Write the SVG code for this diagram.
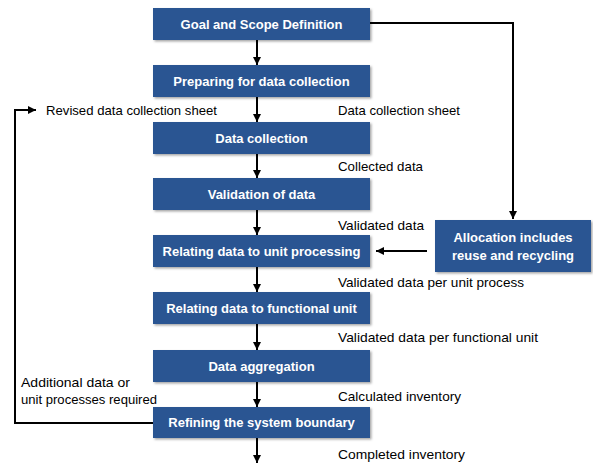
<svg xmlns="http://www.w3.org/2000/svg" width="593" height="464" viewBox="0 0 593 464">
<style>
.box{fill:#2B5592}
.bt{font-family:"Liberation Sans",Arial,sans-serif;font-size:13px;font-weight:bold;fill:#fff;text-anchor:middle}
.lb{font-family:"Liberation Sans",Arial,sans-serif;font-size:13.5px;fill:#000}
.ln{stroke:#000;stroke-width:2;fill:none}
</style>
<defs>
<marker id="ah" viewBox="0 0 10 10" refX="10" refY="5" markerWidth="4" markerHeight="4" orient="auto" markerUnits="strokeWidth">
<path d="M0,0 L10,5 L0,10 z" fill="#000"/>
</marker>
<filter id="sh" x="-5%" y="-20%" width="115%" height="150%">
<feDropShadow dx="1.5" dy="1.5" stdDeviation="1.2" flood-color="#000" flood-opacity="0.35"/>
</filter>
</defs>
<rect width="593" height="464" fill="#fff"/>
<g id="connectors">
<line class="ln" x1="257" y1="40" x2="257" y2="65" marker-end="url(#ah)"/>
<line class="ln" x1="257" y1="97" x2="257" y2="122" marker-end="url(#ah)"/>
<line class="ln" x1="257" y1="154" x2="257" y2="178" marker-end="url(#ah)"/>
<line class="ln" x1="257" y1="210" x2="257" y2="235" marker-end="url(#ah)"/>
<line class="ln" x1="257" y1="267" x2="257" y2="292" marker-end="url(#ah)"/>
<line class="ln" x1="257" y1="324" x2="257" y2="350" marker-end="url(#ah)"/>
<line class="ln" x1="257" y1="382" x2="257" y2="407" marker-end="url(#ah)"/>
<line class="ln" x1="257" y1="438" x2="257" y2="463" marker-end="url(#ah)"/>
<polyline class="ln" points="370,23 513,23 513,219" marker-end="url(#ah)"/>
<line class="ln" x1="427" y1="251" x2="376" y2="251" marker-end="url(#ah)"/>
<polyline class="ln" points="153,423 15,423 15,110 36,110" marker-end="url(#ah)"/>
<text class="lb" x="46" y="114.5" textLength="171" lengthAdjust="spacingAndGlyphs">Revised data collection sheet</text>
<text class="lb" x="338" y="114.5" textLength="122" lengthAdjust="spacingAndGlyphs">Data collection sheet</text>
<text class="lb" x="338" y="171" textLength="85" lengthAdjust="spacingAndGlyphs">Collected data</text>
<text class="lb" x="338" y="229.5" textLength="86" lengthAdjust="spacingAndGlyphs">Validated data</text>
<text class="lb" x="338" y="287" textLength="186" lengthAdjust="spacingAndGlyphs">Validated data per unit process</text>
<text class="lb" x="338" y="342" textLength="200" lengthAdjust="spacingAndGlyphs">Validated data per functional unit</text>
<text class="lb" x="338" y="400.5" textLength="123" lengthAdjust="spacingAndGlyphs">Calculated inventory</text>
<text class="lb" x="338" y="458.5" textLength="127" lengthAdjust="spacingAndGlyphs">Completed inventory</text>
<text class="lb" x="21" y="387" textLength="109" lengthAdjust="spacingAndGlyphs">Additional data or</text>
<text class="lb" x="21" y="403.5" textLength="136" lengthAdjust="spacingAndGlyphs">unit processes required</text>
</g>
<g id="goal"><rect class="box" filter="url(#sh)" x="153" y="8" width="217" height="32"/><text class="bt" x="261.5" y="28.5">Goal and Scope Definition</text></g>
<g id="preparing"><rect class="box" filter="url(#sh)" x="153" y="65" width="217" height="32"/><text class="bt" x="261.5" y="85.5">Preparing for data collection</text></g>
<g id="collection"><rect class="box" filter="url(#sh)" x="153" y="122" width="217" height="32"/><text class="bt" x="261.5" y="142.5">Data collection</text></g>
<g id="validation"><rect class="box" filter="url(#sh)" x="153" y="178" width="217" height="32"/><text class="bt" x="261.5" y="198.5">Validation of data</text></g>
<g id="unitproc"><rect class="box" filter="url(#sh)" x="153" y="235" width="217" height="32"/><text class="bt" x="261.5" y="255.5">Relating data to unit processing</text></g>
<g id="funcunit"><rect class="box" filter="url(#sh)" x="153" y="292" width="217" height="32"/><text class="bt" x="261.5" y="312.5">Relating data to functional unit</text></g>
<g id="aggregation"><rect class="box" filter="url(#sh)" x="153" y="350" width="217" height="32"/><text class="bt" x="261.5" y="370.5">Data aggregation</text></g>
<g id="refining"><rect class="box" filter="url(#sh)" x="153" y="407" width="217" height="31"/><text class="bt" x="261.5" y="427">Refining the system boundary</text></g>
<g id="allocation"><rect class="box" filter="url(#sh)" x="435" y="220" width="156" height="52"/><text class="bt" x="513" y="242">Allocation includes</text><text class="bt" x="513" y="259.5">reuse and recycling</text></g>
</svg>
